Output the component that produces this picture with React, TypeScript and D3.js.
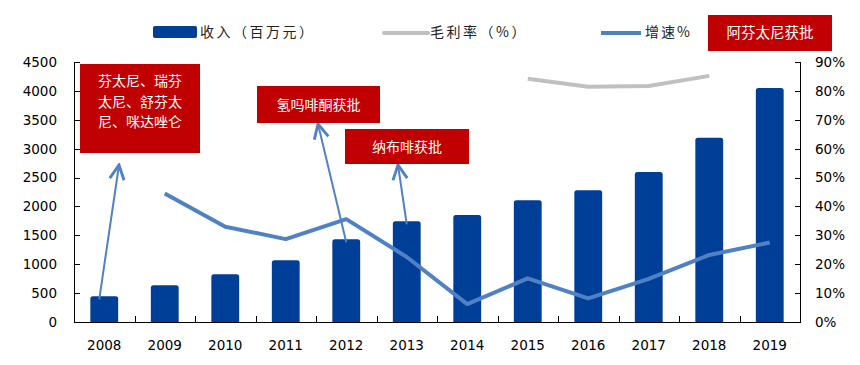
import React from "react";
import * as d3 from "d3";

// ── Data ──────────────────────────────────────────────────────────────────────

const YEARS = ["2008", "2009", "2010", "2011", "2012", "2013", "2014", "2015", "2016", "2017", "2018", "2019"];
const REVENUE = [445, 635, 825, 1068, 1431, 1743, 1852, 2106, 2279, 2596, 3190, 4050];
const GROWTH: (number | null)[] = [null, 44.5, 33, 28.7, 35.6, 22.5, 6.2, 15.1, 8.2, 14.9, 23.2, 27.5];
const MARGIN_PCT: (number | null)[] = [null, null, null, null, null, null, null, 84.2, 81.4, 81.7, 85.2, null];
const LEFT_TICKS = [0, 500, 1000, 1500, 2000, 2500, 3000, 3500, 4000, 4500];
const RIGHT_TICKS = [0, 10, 20, 30, 40, 50, 60, 70, 80, 90];

const NOTES = [
  { year: "2008", lines: ["芬太尼、瑞芬", "太尼、舒芬太", "尼、咪达唑仑"], box: [80, 64, 120, 89], head: [119, 165] },
  { year: "2012", lines: ["氢吗啡酮获批"], box: [257, 86, 123, 37], head: [318, 124] },
  { year: "2013", lines: ["纳布啡获批"], box: [345, 129, 124, 35], head: [398, 165] },
];

// ── Constants ─────────────────────────────────────────────────────────────────

const W = 860;
const H = 365;
const PLOT = { left: 74, right: 800, top: 62, bottom: 322 };
const BAR_COLOR = "#003f98";
const LINE_BLUE = "#4f81c4";
const LINE_GRAY = "#c0c0c0";
const RED = "#c00000";
const NUM_FONT = "'DejaVu Sans', Verdana, sans-serif";
const CJK_FONT = "'Noto Sans CJK SC', sans-serif";

export default function App() {
  const x = d3.scaleBand().domain(YEARS).range([PLOT.left, PLOT.right]).paddingInner(0.54).paddingOuter(0.27);
  const band = d3.scaleBand().domain(YEARS).range([PLOT.left, PLOT.right]);
  const yL = d3.scaleLinear().domain([0, 4500]).range([PLOT.bottom, PLOT.top]);
  const yR = d3.scaleLinear().domain([0, 90]).range([PLOT.bottom, PLOT.top]);
  const cx = (yr: string) => (band(yr) ?? 0) + band.bandwidth() / 2;

  const lineGen = d3
    .line<number | null>()
    .defined((d) => d != null)
    .x((_, i) => cx(YEARS[i]))
    .y((d) => yR(d as number));

  const bw = x.bandwidth();

  return (
    <svg width={W} height={H} style={{ position: "absolute", left: 0, top: 0, background: "#fff" }}>
      <defs>
        <marker id="arrow" viewBox="0 0 10 10" refX="9" refY="5" markerWidth="9" markerHeight="9" orient="auto">
          <path d="M1,1 L9,5 L1,9" fill="none" stroke={LINE_BLUE} strokeWidth={1.6} />
        </marker>
      </defs>

      {/* Bars */}
      {REVENUE.map((v, i) => {
        const x0 = x(YEARS[i]) ?? 0;
        const y0 = yL(v);
        const r = 2.5;
        return (
          <path
            key={YEARS[i]}
            d={`M${x0},${PLOT.bottom} V${y0 + r} Q${x0},${y0} ${x0 + r},${y0} H${x0 + bw - r} Q${x0 + bw},${y0} ${x0 + bw},${y0 + r} V${PLOT.bottom} Z`}
            fill={BAR_COLOR}
          />
        );
      })}

      {/* Lines */}
      <path d={lineGen(MARGIN_PCT) ?? ""} fill="none" stroke={LINE_GRAY} strokeWidth={4} strokeLinejoin="round" />
      <path d={lineGen(GROWTH) ?? ""} fill="none" stroke={LINE_BLUE} strokeWidth={4} strokeLinejoin="round" />

      {/* Axes */}
      <g stroke="#000" strokeWidth={1} shapeRendering="crispEdges">
        <line x1={PLOT.left + 0.5} x2={PLOT.left + 0.5} y1={PLOT.top} y2={PLOT.bottom} />
        <line x1={PLOT.right + 0.5} x2={PLOT.right + 0.5} y1={PLOT.top} y2={PLOT.bottom} />
        <line x1={PLOT.left} x2={PLOT.right + 1} y1={PLOT.bottom + 0.5} y2={PLOT.bottom + 0.5} />
        {LEFT_TICKS.map((t) => (
          <line key={"l" + t} x1={PLOT.left} x2={PLOT.left + 6} y1={Math.round(yL(t)) + 0.5} y2={Math.round(yL(t)) + 0.5} />
        ))}
        {RIGHT_TICKS.map((t) => (
          <line key={"r" + t} x1={PLOT.right - 5} x2={PLOT.right} y1={Math.round(yR(t)) + 0.5} y2={Math.round(yR(t)) + 0.5} />
        ))}
        {YEARS.slice(1).map((yr) => (
          <line key={"b" + yr} x1={Math.round(band(yr) ?? 0) + 0.5} x2={Math.round(band(yr) ?? 0) + 0.5} y1={PLOT.bottom} y2={PLOT.bottom - 6} />
        ))}
      </g>

      <g fontFamily={NUM_FONT} fontSize={13.5} fill="#000">
        {LEFT_TICKS.map((t) => (
          <text key={"lt" + t} x={57} y={yL(t)} dy="0.36em" textAnchor="end">{t}</text>
        ))}
        {RIGHT_TICKS.map((t) => (
          <text key={"rt" + t} x={815} y={yR(t)} dy="0.36em" textAnchor="start">{t}%</text>
        ))}
        {YEARS.map((yr) => (
          <text key={"yt" + yr} x={cx(yr)} y={350} textAnchor="middle">{yr}</text>
        ))}
      </g>

      {/* Annotations */}
      {NOTES.map((n) => {
        const [bx, by, bwid, bh] = n.box;
        const tail = [cx(n.year) - (n.year === "2008" ? 5 : 0), yL(REVENUE[YEARS.indexOf(n.year)]) + 3];
        return (
          <g key={n.year}>
            <line x1={tail[0]} y1={tail[1]} x2={n.head[0]} y2={n.head[1]} stroke={LINE_BLUE} strokeWidth={2} markerEnd="url(#arrow)" />
            <rect x={bx} y={by} width={bwid} height={bh} fill={RED} />
            {n.lines.map((ln, i) => (
              <text
                key={i}
                x={bx + bwid / 2}
                y={n.lines.length > 1 ? by + 17 + i * 20.5 : by + bh / 2}
                dy="0.36em"
                textAnchor="middle"
                fontFamily={CJK_FONT}
                fontSize={14}
                fill="#fff"
              >
                {ln}
              </text>
            ))}
          </g>
        );
      })}

      {/* Legend */}
      <g fontFamily={CJK_FONT} fontSize={14} fill="#222">
        <rect x={153} y={26} width={44} height={12} rx={2} fill={BAR_COLOR} />
        <text x={200} y={32} dy="0.36em" letterSpacing={2.5}>收入（百万元）</text>
        <line x1={384} x2={428} y1={33} y2={33} stroke={LINE_GRAY} strokeWidth={4} strokeLinecap="round" />
        <text x={430} y={32} dy="0.36em" letterSpacing={2.5}>毛利率（%）</text>
        <line x1={601} x2={641} y1={33} y2={33} stroke={LINE_BLUE} strokeWidth={4} />
        <text x={645} y={32} dy="0.36em" letterSpacing={2}>增速%</text>
        <rect x={708} y={15} width={124} height={36} fill={RED} />
        <text x={770} y={33} dy="0.36em" textAnchor="middle" fill="#fff" fontSize={14.5}>阿芬太尼获批</text>
      </g>
    </svg>
  );
}
